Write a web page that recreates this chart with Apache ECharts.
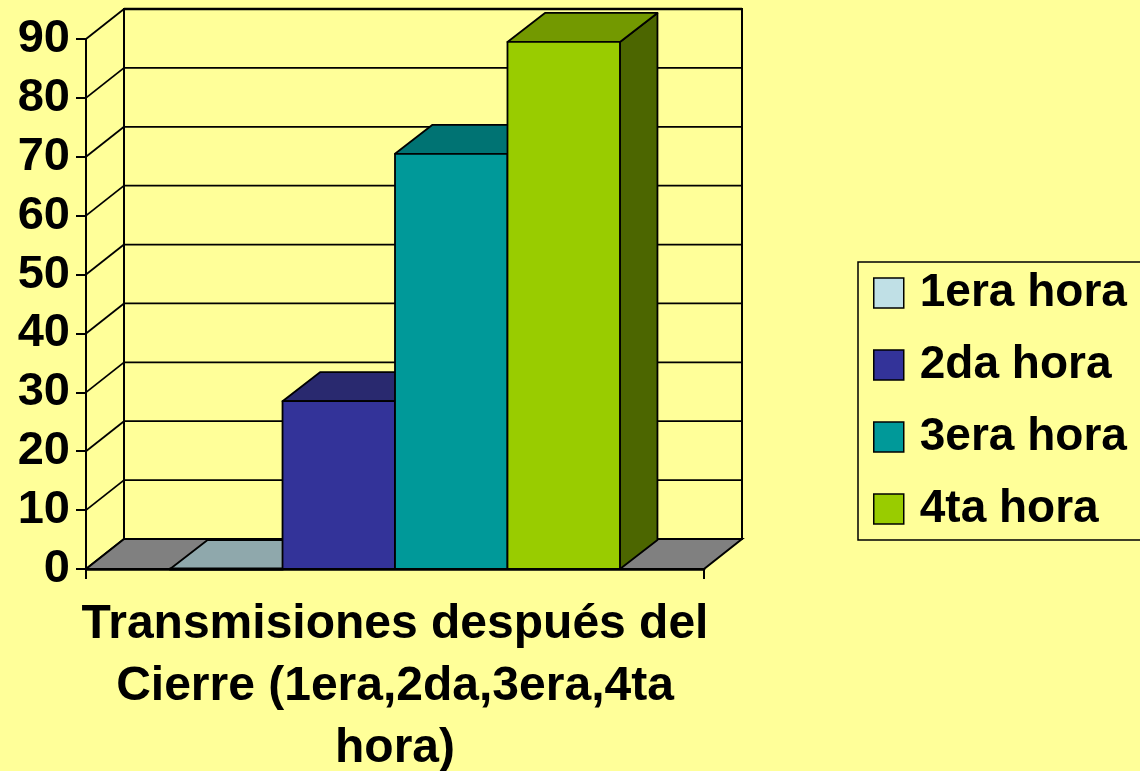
<!DOCTYPE html>
<html>
<head>
<meta charset="utf-8">
<script src="https://cdn.jsdelivr.net/npm/echarts@6/dist/echarts.min.js"></script>
<style>
  html, body { margin: 0; padding: 0; background: #FFFF99; overflow: hidden; }
  #chart { width: 1140px; height: 771px; }
</style>
</head>
<body>
<div id="chart"></div>
<script>
// ---- data ----
const categories = ['Transmisiones'];
const seriesNames = ['1era hora', '2da hora', '3era hora', '4ta hora'];
const seriesValues = [0, 28.5, 70.5, 89.5];
const yMin = 0, yMax = 90, yStep = 10;
const axisTitle = 'Transmisiones después del\nCierre (1era,2da,3era,4ta\nhora)';

// ---- style ----
const FONT = "'Liberation Sans', Arial, sans-serif";
const BG = '#FFFF99';
const frontColors = ['#C0E0E6', '#333399', '#009999', '#99CC00'];
const topColors   = ['#8FA8AC', '#29296F', '#007373', '#739900'];
const sideColors  = ['#90A8AC', '#1F1F57', '#005252', '#4C6600'];
const DX = 38, DY = -30;        // wall depth
const BDX = 37.5, BDY = -29;    // bar depth
const GAP_FRAC = 0.136;         // outer gap in band
const BAR_FRAC = 0.182;         // bar width in band

const ticks = [];
for (let v = yMin; v <= yMax; v += yStep) ticks.push(v);

function wallsRender(params, api) {
  const c0 = api.coord([0, yMin]);
  const cTop = api.coord([0, yMax]);
  const w = api.size([1, 0])[0];
  const left = c0[0] - w / 2, right = c0[0] + w / 2;
  const y0 = c0[1], yT = cTop[1];
  const children = [];
  children.push({ type: 'rect', shape: { x: left + DX, y: yT + DY, width: w, height: y0 - yT },
    style: { fill: BG, stroke: '#000', lineWidth: 2 } });
  ticks.forEach(v => {
    const y = api.coord([0, v])[1];
    children.push({ type: 'line', shape: { x1: left + DX, y1: y + DY, x2: right + DX, y2: y + DY },
      style: { stroke: '#000', lineWidth: v === yMax ? 2.5 : 1.8 } });
    children.push({ type: 'line', shape: { x1: left, y1: y, x2: left + DX, y2: y + DY },
      style: { stroke: '#000', lineWidth: 1.8 } });
  });
  children.push({ type: 'polygon', shape: { points: [[left, y0], [right, y0], [right + DX, y0 + DY], [left + DX, y0 + DY]] },
    style: { fill: '#808080', stroke: '#000', lineWidth: 2 } });
  return { type: 'group', children };
}

function makeBarRender(i) {
  return function (params, api) {
    const val = api.value(1);
    const c0 = api.coord([api.value(0), yMin]);
    const cv = api.coord([api.value(0), val]);
    const w = api.size([1, 0])[0];
    const bw = w * BAR_FRAC;
    const bx = c0[0] - w / 2 + w * GAP_FRAC + i * bw;
    const y0 = c0[1], yv = cv[1];
    const stroke = { stroke: '#000', lineWidth: 1.8, lineJoin: 'round' };
    return { type: 'group', children: [
      { type: 'polygon', shape: { points: [[bx + bw, yv], [bx + bw + BDX, yv + BDY], [bx + bw + BDX, y0 + BDY], [bx + bw, y0]] },
        style: Object.assign({ fill: sideColors[i] }, stroke) },
      { type: 'polygon', shape: { points: [[bx, yv], [bx + bw, yv], [bx + bw + BDX, yv + BDY], [bx + BDX, yv + BDY]] },
        style: Object.assign({ fill: topColors[i] }, stroke) },
      { type: 'rect', shape: { x: bx, y: yv, width: bw, height: y0 - yv },
        style: Object.assign({ fill: frontColors[i] }, stroke, { lineWidth: val === 0 ? 3 : 1.8 }) }
    ]};
  };
}

const series = [{
  type: 'custom', name: '__walls', renderItem: wallsRender, data: [[0, yMax]], z: 1, silent: true
}];
seriesNames.forEach((name, i) => {
  series.push({
    type: 'custom', name, renderItem: makeBarRender(i), z: 2 + i,
    itemStyle: { color: frontColors[i] },
    encode: { x: 0, y: 1 },
    data: [[0, seriesValues[i]]]
  });
});

const chart = echarts.init(document.getElementById('chart'), null, { renderer: 'canvas', width: 1140, height: 771 });
chart.setOption({
  backgroundColor: BG,
  animation: false,
  textStyle: { fontFamily: FONT },
  grid: { left: 86, width: 618, top: 39, height: 530, containLabel: false, outerBoundsMode: 'none' },
  xAxis: {
    type: 'category', data: categories, boundaryGap: true,
    axisLine: { show: true, lineStyle: { color: '#000', width: 2.5 } },
    axisTick: { show: true, length: 10, lineStyle: { color: '#000', width: 2 } },
    axisLabel: { show: false },
    splitLine: { show: false },
    name: axisTitle, nameLocation: 'middle', nameGap: 25,
    nameTextStyle: { fontFamily: FONT, fontSize: 48, fontWeight: 'bold', color: '#000', lineHeight: 62, align: 'center' }
  },
  yAxis: {
    type: 'value', min: yMin, max: yMax, interval: yStep,
    axisLine: { show: true, lineStyle: { color: '#000', width: 2 } },
    axisTick: { show: true, length: 10, lineStyle: { color: '#000', width: 2 } },
    axisLabel: { margin: 16, fontFamily: FONT, fontSize: 47, fontWeight: 'bold', color: '#000' },
    splitLine: { show: false }
  },
  legend: {
    orient: 'vertical', left: 858, top: 262,
    data: seriesNames,
    icon: 'rect', itemWidth: 30, itemHeight: 30, itemGap: 26,
    padding: [8, 30, 8, 15],
    borderColor: '#000', borderWidth: 1.5,
    itemStyle: { borderColor: '#000', borderWidth: 1.5 },
    textStyle: { fontFamily: FONT, fontSize: 46, fontWeight: 'bold', color: '#000', lineHeight: 44, padding: [0, 0, 0, 11] },
    selectedMode: false
  },
  series
});
</script>
</body>
</html>
